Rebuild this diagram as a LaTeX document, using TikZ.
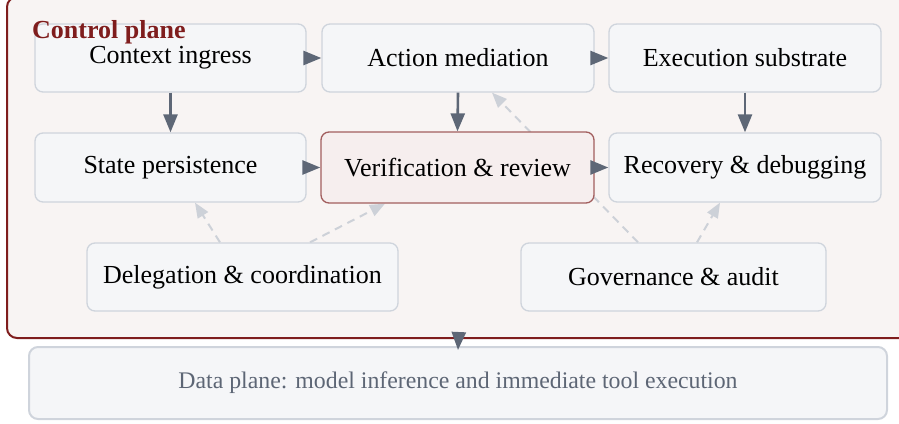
\documentclass[tikz,border=0pt]{standalone}
\usepackage{fontspec}
\setmainfont{Liberation Serif}
\usetikzlibrary{arrows.meta}
\definecolor{planefill}{HTML}{F8F4F3}
\definecolor{planeedge}{HTML}{7F1D1D}
\definecolor{boxfill}{HTML}{F5F6F8}
\definecolor{boxedge}{HTML}{CFD4DC}
\definecolor{focusfill}{HTML}{F6EEEE}
\definecolor{focusedge}{HTML}{A25E5E}
\definecolor{flow}{HTML}{5E6776}
\definecolor{hint}{HTML}{CDD1D8}
\definecolor{datatext}{HTML}{5D6675}
\pgfdeclarelayer{back}
\pgfdeclarelayer{links}
\pgfsetlayers{back,links,main}
\tikzset{
  stage/.style={draw=boxedge, fill=boxfill, line width=1.3pt, rounded corners=8pt,
    inner sep=0pt, minimum height=68pt, text=black,
    font=\fontsize{26}{30}\selectfont},
  focus/.style={stage, draw=focusedge, fill=focusfill},
  flowarrow/.style={draw=flow, line width=2.6pt,
    -{Triangle[length=18pt, width=14pt]}},
  hintarrow/.style={draw=hint, line width=2pt, dash pattern=on 8pt off 6pt,
    -{Triangle[length=15pt, width=12pt]}},
}
\begin{document}
\begin{tikzpicture}[x=1pt, y=-1pt]
\useasboundingbox (0,0) rectangle (899,423);

% control plane frame and its title
\begin{pgfonlayer}{back}
\node[draw=planeedge, fill=planefill, line width=2pt, rounded corners=10pt,
  minimum width=903pt, minimum height=341pt, inner sep=0pt] (ctrl) at (458.5,167.5) {};
\end{pgfonlayer}

% stages
\node[stage, minimum width=271pt] (ctx) at (170.5,58) {Context ingress};
\node[stage, minimum width=272pt] (act) at (458,58) {Action mediation};
\node[stage, minimum width=272pt] (exe) at (745,58) {Execution substrate};
\node[stage, minimum width=271pt, minimum height=69pt] (st) at (170.5,167.5) {State persistence};
\node[focus, minimum width=273pt, minimum height=71pt] (ver) at (457.5,167.5) {Verification \& review};
\node[stage, minimum width=272pt, minimum height=69pt] (rec) at (745,167.5) {Recovery \& debugging};
\node[stage, minimum width=311pt] (del) at (242.5,277) {Delegation \& coordination};
\node[stage, minimum width=305pt] (gov) at (673.5,277) {Governance \& audit};

\node[draw=boxedge, fill=boxfill, line width=2pt, rounded corners=9pt,
  minimum width=858pt, minimum height=72pt, inner sep=0pt, text=datatext,
  font=\fontsize{23.8}{28}\selectfont] (data) at (458,383)
  {Data plane: model inference and immediate tool execution};

\node[anchor=base west, inner sep=0pt, text=planeedge,
  font=\fontsize{26}{30}\selectfont\bfseries] (title) at (32,38) {Control plane};

% advisory links (behind the stages)
\begin{pgfonlayer}{links}
\draw[hintarrow] ([xshift=-22.5pt]del.north) -- ([xshift=24.5pt]st.south);
\draw[hintarrow] ([xshift=67.5pt]del.north) -- ([xshift=-72.5pt]ver.south);
\draw[hintarrow] ([xshift=23.5pt]gov.north) -- ([xshift=-25pt]rec.south);
\draw[hintarrow] ([xshift=-35.5pt]gov.north) -- ([xshift=34pt]act.south);
\end{pgfonlayer}

% main flow
\draw[flowarrow] (ctx.east) -- (act.west);
\draw[flowarrow] (act.east) -- (exe.west);
\draw[flowarrow] (ctx.south) -- (st.north);
\draw[flowarrow] (act.south) -- (ver.north);
\draw[flowarrow] (exe.south) -- (rec.north);
\draw[flowarrow] (st.east) -- (ver.west);
\draw[flowarrow] (ver.east) -- (rec.west);
\draw[flowarrow] (ctrl.south) -- ([yshift=-4pt]data.north);
\end{tikzpicture}
\end{document}
